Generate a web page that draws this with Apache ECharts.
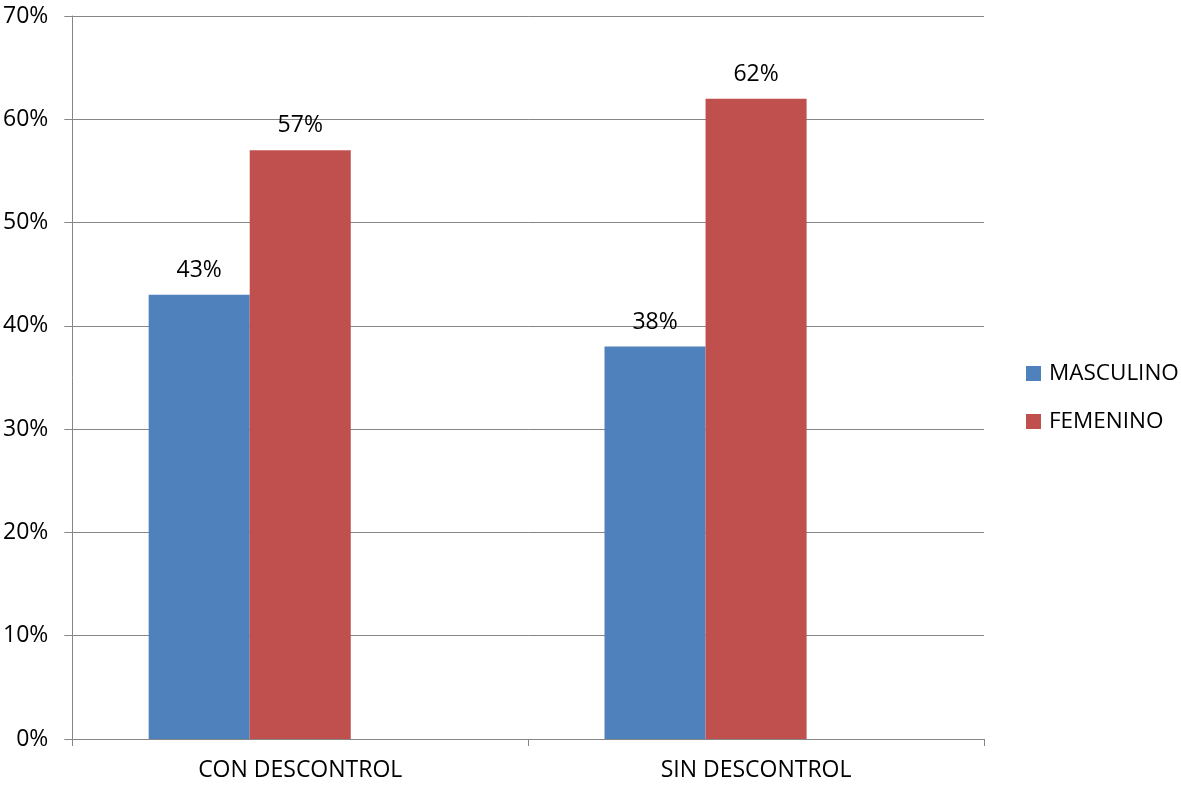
<!DOCTYPE html>
<html><head><meta charset="utf-8">
<script src="https://cdn.jsdelivr.net/npm/echarts@6/dist/echarts.min.js"></script>
<style>html,body{margin:0;padding:0;background:#fff}#c{width:1181px;height:787px}</style>
</head><body><div id="c"></div>
<script>
const categories = ['CON DESCONTROL', 'SIN DESCONTROL'];
const masculino = [43, 38];
const femenino = [57, 62];
const emptySlot = ['-', '-'];
const seriesNames = ['MASCULINO', 'FEMENINO'];
const FONT = 'Open Sans';
const FS = 23;
const chart = echarts.init(document.getElementById('c'));
const labelCfg = {show: true, position: 'top', distance: 13, formatter: '{c}%', color: '#000', fontFamily: FONT, fontSize: FS};
chart.setOption({
  animation: false,
  backgroundColor: '#fff',
  grid: {left: 72, right: 197, top: 16, bottom: 48, containLabel: false},
  legend: {
    orient: 'vertical', left: 1026, top: 362, padding: 0, itemWidth: 15, itemHeight: 15, itemGap: 25,
    icon: 'rect',
    textStyle: {fontFamily: FONT, fontSize: 22.5, color: '#000', padding: [0, 0, 0, 3]},
    data: seriesNames
  },
  xAxis: {
    type: 'category', data: categories,
    axisLine: {lineStyle: {color: '#868686', width: 1}},
    axisTick: {show: true, length: 7, lineStyle: {color: '#868686'}},
    axisLabel: {color: '#000', fontFamily: FONT, fontSize: FS, margin: 20}
  },
  yAxis: {
    type: 'value', min: 0, max: 70, interval: 10,
    axisLine: {show: true, lineStyle: {color: '#868686'}},
    axisTick: {show: true, length: 8, lineStyle: {color: '#868686'}},
    splitLine: {lineStyle: {color: '#868686', width: 1}},
    axisLabel: {formatter: '{value}%', color: '#000', fontFamily: FONT, fontSize: FS, margin: 24}
  },
  series: [
    {name: seriesNames[0], type: 'bar', data: masculino, itemStyle: {color: '#4F81BD'}, barGap: '0%', barCategoryGap: '33.5%', label: labelCfg},
    {name: seriesNames[1], type: 'bar', data: femenino, itemStyle: {color: '#C0504D'}, barGap: '0%', barCategoryGap: '33.5%', label: labelCfg},
    {name: 'vacío', type: 'bar', data: emptySlot, itemStyle: {color: '#9BBB59'}, barGap: '0%', barCategoryGap: '33.5%'}
  ]
});
</script></body></html>
